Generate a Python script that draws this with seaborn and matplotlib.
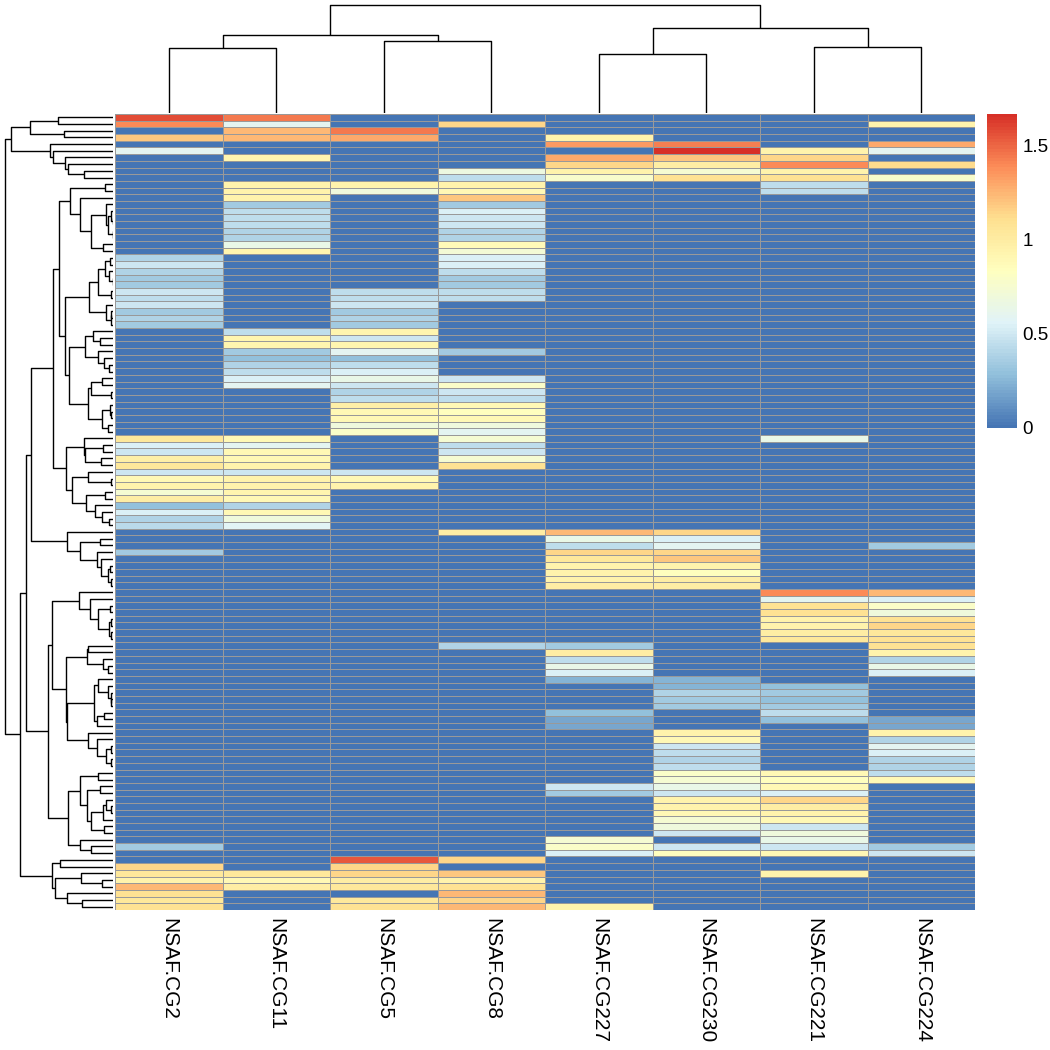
import numpy as np
import pandas as pd
import matplotlib
matplotlib.use("Agg")
import matplotlib.pyplot as plt
import seaborn as sns
from matplotlib.colors import LinearSegmentedColormap

plt.rcParams['font.family'] = ['Liberation Sans', 'DejaVu Sans']

samples = ["NSAF.CG2", "NSAF.CG11", "NSAF.CG5", "NSAF.CG8",
           "NSAF.CG227", "NSAF.CG230", "NSAF.CG221", "NSAF.CG224"]

# values, rows top to bottom (119 proteins)
cg2 = [1.58, 1.4, 0, 1.2, 0, 0.6, 0, 0, 0, 0,
       0, 0, 0, 0, 0, 0, 0, 0, 0, 0,
       0, 0.4, 0.5, 0.4, 0.35, 0.35, 0.5, 0.45, 0.5, 0.35,
       0.4, 0.35, 0, 0, 0, 0, 0, 0, 0, 0,
       0, 0, 0, 0, 0, 0, 0, 0, 1.05, 0.55,
       0.5, 0.98, 1.05, 0.5, 0.9, 0.95, 0.75, 1.0, 0.3, 0.55,
       0.4, 0.42, 0, 0, 0, 0.35, 0, 0, 0, 0,
       0, 0, 0, 0, 0, 0, 0, 0, 0, 0,
       0, 0, 0, 0, 0, 0, 0, 0, 0, 0,
       0, 0, 0, 0, 0, 0, 0, 0, 0, 0,
       0, 0, 0, 0, 0, 0, 0, 0, 0, 0.35,
       0, 0, 1.15, 1.05, 0.95, 1.25, 1.1, 1.05, 1.1]
cg11 = [1.45, 0.6, 1.25, 1.25, 0, 0, 0.92, 0, 0, 0,
        0.95, 0.95, 0.95, 0.35, 0.45, 0.45, 0.45, 0.4, 0.4, 0.65,
        0.92, 0, 0, 0, 0, 0, 0, 0, 0, 0,
        0, 0, 0.45, 0.92, 0.92, 0.35, 0.3, 0.4, 0.45, 0.55,
        0.6, 0, 0, 0, 0, 0, 0, 0, 0.9, 0.6,
        0.9, 0.9, 0.95, 0.5, 0.95, 0.95, 0.92, 0.9, 0.4, 0.9,
        0.7, 0.58, 0, 0, 0, 0, 0, 0, 0, 0,
        0, 0, 0, 0, 0, 0, 0, 0, 0, 0,
        0, 0, 0, 0, 0, 0, 0, 0, 0, 0,
        0, 0, 0, 0, 0, 0, 0, 0, 0, 0,
        0, 0, 0, 0, 0, 0, 0, 0, 0, 0,
        0, 0, 0, 1.05, 0.9, 1.0, 0, 0, 0]
cg5 = [0, 0, 1.45, 1.3, 0, 0, 0, 0, 0, 0,
       0.95, 0.7, 0, 0, 0, 0, 0, 0, 0, 0,
       0, 0, 0, 0, 0, 0, 0.45, 0.45, 0.5, 0.35,
       0.4, 0.35, 0.92, 0.5, 0.92, 0.6, 0.3, 0.45, 0.55, 0.65,
       0.5, 0.4, 0.45, 0.98, 0.9, 0.9, 0.7, 0.8, 0, 0,
       0, 0, 0, 0.5, 0.9, 0.95, 0, 0, 0, 0,
       0, 0, 0, 0, 0, 0, 0, 0, 0, 0,
       0, 0, 0, 0, 0, 0, 0, 0, 0, 0,
       0, 0, 0, 0, 0, 0, 0, 0, 0, 0,
       0, 0, 0, 0, 0, 0, 0, 0, 0, 0,
       0, 0, 0, 0, 0, 0, 0, 0, 0, 0,
       0, 1.55, 1.15, 1.15, 1.0, 1.05, 0, 1.05, 1.1]
cg8 = [0, 1.15, 0, 0, 0, 0, 0, 0, 0.68, 0.45,
       0.95, 0.9, 1.2, 0.35, 0.55, 0.5, 0.5, 0.4, 0.4, 0.88,
       0.72, 0.55, 0.55, 0.45, 0.35, 0.35, 0.45, 0.45, 0, 0,
       0, 0, 0, 0, 0, 0.35, 0, 0, 0, 0.5,
       0.8, 0.5, 0.45, 0.9, 0.85, 0.9, 0.7, 0.6, 0.75, 0.45,
       0.5, 0.75, 1.1, 0, 0, 0, 0, 0, 0, 0,
       0, 0, 1.0, 0, 0, 0, 0, 0, 0, 0,
       0, 0, 0, 0, 0, 0, 0, 0, 0, 0.4,
       0, 0, 0, 0, 0, 0, 0, 0, 0, 0,
       0, 0, 0, 0, 0, 0, 0, 0, 0, 0,
       0, 0, 0, 0, 0, 0, 0, 0, 0, 0,
       0, 1.15, 0, 1.2, 0.95, 1.1, 1.25, 1.15, 1.25]
cg227 = [0, 0, 0, 0.95, 1.35, 0, 1.3, 1.15, 0.95, 0.78,
         0, 0, 0, 0, 0, 0, 0, 0, 0, 0,
         0, 0, 0, 0, 0, 0, 0, 0, 0, 0,
         0, 0, 0, 0, 0, 0, 0, 0, 0, 0,
         0, 0, 0, 0, 0, 0, 0, 0, 0, 0,
         0, 0, 0, 0, 0, 0, 0, 0, 0, 0,
         0, 0, 1.25, 0.65, 0.45, 1.15, 1.05, 0.95, 0.95, 0.95,
         1.0, 0, 0, 0, 0, 0, 0, 0, 0, 0.35,
         1.0, 0.45, 0.65, 0.55, 0.25, 0, 0, 0, 0, 0.3,
         0.2, 0.2, 0, 0, 0, 0, 0, 0, 0, 0,
         0.5, 0.35, 0, 0, 0, 0, 0, 0, 0.75, 0.8,
         0.55, 0, 0, 0, 0, 0, 0, 0, 0.95]
cg230 = [0, 0, 0, 0, 1.42, 1.67, 1.2, 1.0, 0.75, 1.1,
         0, 0, 0, 0, 0, 0, 0, 0, 0, 0,
         0, 0, 0, 0, 0, 0, 0, 0, 0, 0,
         0, 0, 0, 0, 0, 0, 0, 0, 0, 0,
         0, 0, 0, 0, 0, 0, 0, 0, 0, 0,
         0, 0, 0, 0, 0, 0, 0, 0, 0, 0,
         0, 0, 1.15, 0.55, 0.6, 1.15, 1.2, 0.95, 0.85, 1.0,
         1.0, 0, 0, 0, 0, 0, 0, 0, 0, 0,
         0, 0, 0, 0, 0.25, 0.25, 0.4, 0.35, 0.35, 0,
         0, 0, 0.95, 0.9, 0.5, 0.45, 0.4, 0.45, 0.8, 0.75,
         0.65, 0.5, 0.95, 0.95, 0.9, 0.75, 0.7, 0.5, 0, 0.5,
         0.85, 0, 0, 0, 0, 0, 0, 0, 0]
cg221 = [0, 0, 0, 0, 0, 0.95, 1.15, 1.4, 0.95, 1.1,
         0.45, 0.45, 0, 0, 0, 0, 0, 0, 0, 0,
         0, 0, 0, 0, 0, 0, 0, 0, 0, 0,
         0, 0, 0, 0, 0, 0, 0, 0, 0, 0,
         0, 0, 0, 0, 0, 0, 0, 0, 0.65, 0,
         0, 0, 0, 0, 0, 0, 0, 0, 0, 0,
         0, 0, 0, 0, 0, 0, 0, 0, 0, 0,
         0, 1.4, 0.6, 1.1, 1.1, 0.95, 0.95, 1.0, 1.05, 0,
         0, 0, 0, 0, 0, 0.3, 0.35, 0.3, 0.35, 0.45,
         0.3, 0, 0, 0, 0, 0, 0, 0, 0.9, 0.85,
         0.9, 0.55, 1.15, 1.0, 0.95, 0.9, 0.5, 0.7, 0.65, 0.5,
         0.9, 0, 0, 0.95, 0, 0, 0, 0, 0]
cg224 = [0, 0.95, 0, 0, 1.3, 0.6, 0, 1.12, 0, 0.78,
         0, 0, 0, 0, 0, 0, 0, 0, 0, 0,
         0, 0, 0, 0, 0, 0, 0, 0, 0, 0,
         0, 0, 0, 0, 0, 0, 0, 0, 0, 0,
         0, 0, 0, 0, 0, 0, 0, 0, 0, 0,
         0, 0, 0, 0, 0, 0, 0, 0, 0, 0,
         0, 0, 0, 0, 0.35, 0, 0, 0, 0, 0,
         0, 1.25, 0.55, 0.8, 0.7, 1.1, 1.15, 1.05, 1.1, 1.1,
         0.95, 0.4, 0.65, 0.55, 0, 0, 0, 0, 0, 0,
         0.2, 0.2, 0.95, 0.4, 0.6, 0.55, 0.4, 0.4, 0.45, 0.9,
         0, 0, 0, 0, 0, 0, 0, 0, 0, 0.35,
         0.5, 0, 0, 0, 0, 0, 0, 0, 0]

df = pd.DataFrame(dict(zip(samples, [cg2, cg11, cg5, cg8, cg227, cg230, cg221, cg224])))
df.index = ["p%d" % (i + 1) for i in range(len(df))]


def ordered_linkage(X):
    # complete linkage on euclidean distance, merging only neighbouring
    # clusters so the leaves keep the order they were read in
    n = X.shape[0]
    D = np.sqrt(((X[:, None, :] - X[None, :, :]) ** 2).sum(-1))
    clusters = [[i] for i in range(n)]
    nodes = list(range(n))
    pos = {i: i + 0.5 for i in range(n)}
    height = {i: 0.0 for i in range(n)}
    segs = []
    nxt = n
    while len(clusters) > 1:
        gaps = [D[np.ix_(clusters[k], clusters[k + 1])].max() for k in range(len(clusters) - 1)]
        k = int(np.argmin(gaps))
        l, r = nodes[k], nodes[k + 1]
        h = gaps[k]
        pos[nxt] = (pos[l] + pos[r]) / 2
        height[nxt] = h
        segs.append(([pos[l], pos[l], pos[r], pos[r]],
                     [height[l], h, h, height[r]]))
        clusters[k:k + 2] = [clusters[k] + clusters[k + 1]]
        nodes[k:k + 2] = [nxt]
        nxt += 1
    return segs, height[nxt - 1]


row_segs, row_max = ordered_linkage(df.values)
col_segs, col_max = ordered_linkage(df.values.T)

colors = ["#4575B4", "#91BFDB", "#E0F3F8", "#FFFFBF", "#FEE090", "#FC8D59", "#D73027"]
cmap = LinearSegmentedColormap.from_list("rdylbu", colors, N=100)

W = 1050.0
fig = plt.figure(figsize=(10.5, 10.5), dpi=100)
ax_heat = fig.add_axes([115 / W, 1 - 910 / W, 860 / W, 796 / W])
ax_top = fig.add_axes([115 / W, 1 - 113 / W, 860 / W, 110 / W])
ax_left = fig.add_axes([3 / W, 1 - 910 / W, 110 / W, 796 / W])
cax = fig.add_axes([987 / W, 1 - 428 / W, 30 / W, 314 / W])

sns.heatmap(df, ax=ax_heat, cmap=cmap, vmin=0, vmax=df.values.max(),
            linewidths=0.7, linecolor="#999999", cbar_ax=cax,
            xticklabels=True, yticklabels=False)
ax_heat.set_xlabel("")
ax_heat.set_ylabel("")
ax_heat.tick_params(axis="x", length=0, pad=6)
plt.setp(ax_heat.get_xticklabels(), rotation=270, ha="center", va="top", fontsize=15)

cbar = ax_heat.collections[0].colorbar
cbar.outline.set_visible(False)
cbar.set_ticks([0, 0.5, 1, 1.5])
cbar.set_ticklabels(["0", "0.5", "1", "1.5"])
cax.tick_params(length=0, labelsize=13.5, pad=4)

for xs, ys in col_segs:
    ax_top.plot(xs, ys, color="black", lw=1.0, solid_capstyle="butt")
ax_top.set_xlim(0, df.shape[1])
ax_top.set_ylim(0, col_max * 1.02)
ax_top.axis("off")

for xs, ys in row_segs:
    ax_left.plot(ys, xs, color="black", lw=1.0, solid_capstyle="butt")
ax_left.set_ylim(df.shape[0], 0)
ax_left.set_xlim(row_max * 1.02, 0)
ax_left.axis("off")

fig.savefig("out.png", dpi=100)
